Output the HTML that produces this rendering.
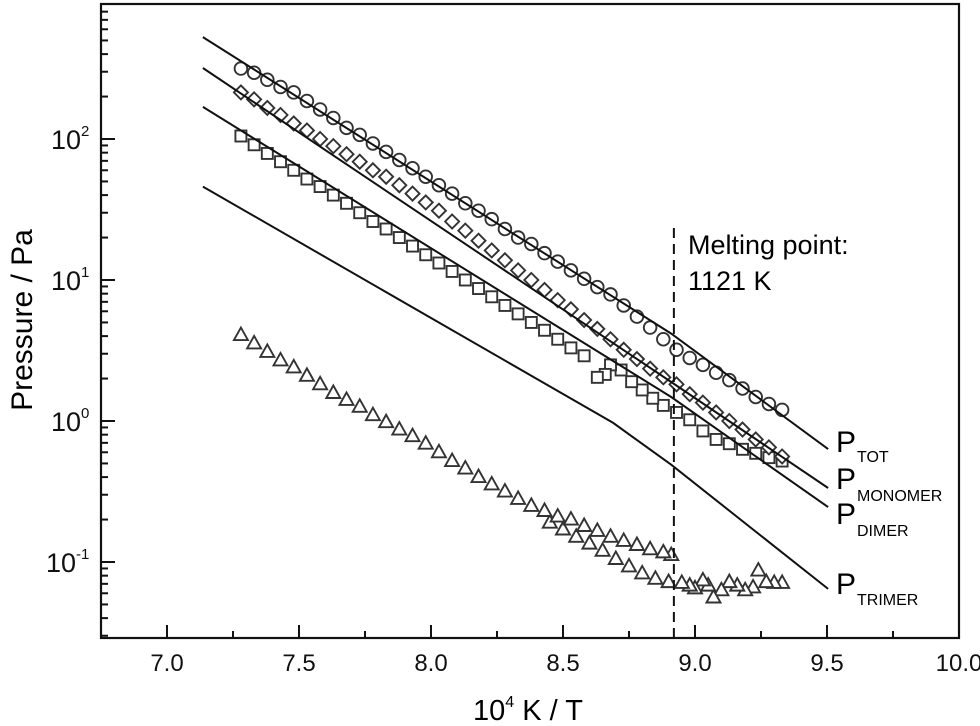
<!DOCTYPE html>
<html><head><meta charset="utf-8"><style>
html,body{margin:0;padding:0;background:#fff;}
svg{display:block;font-family:"Liberation Sans",Arial,sans-serif;}
</style></head><body>
<svg id="chart" width="980" height="726" viewBox="0 0 980 726">
<g id="marks"></g>
<g id="axes"></g>
<g id="labels">
<text x="688" y="254" font-size="27">Melting point:</text>
<text x="688" y="290" font-size="27">1121 K</text>
<g><text x="836" y="452" font-size="30">P</text><text x="857" y="462" font-size="16">TOT</text></g>
<g><text x="836" y="489" font-size="30">P</text><text x="857" y="501" font-size="16">MONOMER</text></g>
<g><text x="836" y="524" font-size="30">P</text><text x="857" y="536" font-size="16">DIMER</text></g>
<g><text x="836" y="594" font-size="30">P</text><text x="857" y="605" font-size="16">TRIMER</text></g>
<text transform="translate(32,320) rotate(-90)" text-anchor="middle" font-size="30">Pressure / Pa</text>
<text x="473" y="720" font-size="29">10<tspan font-size="16" dy="-13">4</tspan><tspan dy="13"> K / T</tspan></text>
</g>
</svg>
<script>
// ---- data ----
const xTicks = [7.0, 7.5, 8.0, 8.5, 9.0, 9.5, 10.0];
const xTickLabels = ["7.0", "7.5", "8.0", "8.5", "9.0", "9.5", "10.0"];
const yDecades = [-1, 0, 1, 2];
const yTickLabels = ["-1", "0", "1", "2"];
const meltingX = 8.92;

const totX = [7.28,7.33,7.38,7.43,7.48,7.53,7.58,7.63,7.68,7.73,7.78,7.83,7.88,7.93,7.98,8.03,8.08,8.13,8.18,8.23,8.28,8.33,8.38,8.43,8.48,8.53,8.58,8.63,8.68,8.73,8.78,8.83,8.88,8.93,8.98,9.03,9.08,9.13,9.18,9.23,9.28,9.33];
const totP = [316,295,263,234,214,186,162,141,120,107,93,81,71,62,54,47,41,35,31,27,23,20,18,15.5,13.5,11.7,10.2,8.9,7.9,6.6,5.5,4.6,3.8,3.2,2.8,2.5,2.2,1.95,1.7,1.48,1.32,1.2];

const monoX = totX;
const monoP = [214,191,166,148,129,115,100,89,78,69,60,54,47,41,35.5,31,26,22.4,19,16.2,13.8,11.7,10,8.5,7.2,6.2,5.2,4.5,3.8,3.2,2.75,2.35,2.04,1.82,1.55,1.35,1.15,1.0,0.87,0.74,0.65,0.56];

const dimerX = [7.28,7.33,7.38,7.43,7.48,7.53,7.58,7.63,7.68,7.73,7.78,7.83,7.88,7.93,7.98,8.03,8.08,8.13,8.18,8.23,8.28,8.33,8.38,8.43,8.48,8.53,8.58,8.63,8.66,8.68,8.72,8.76,8.8,8.84,8.88,8.93,8.98,9.03,9.08,9.13,9.18,9.23,9.28,9.33];
const dimerP = [105,91,79,69,60,52,46,40,35,30,26,23,20,17.4,15.1,13.2,11.5,10,8.7,7.6,6.6,5.75,5.0,4.4,3.8,3.3,2.9,2.04,2.14,2.5,2.3,1.9,1.66,1.45,1.29,1.15,1.02,0.85,0.74,0.69,0.63,0.59,0.55,0.52];

const trimerX = [7.28,7.33,7.38,7.43,7.48,7.53,7.58,7.63,7.68,7.73,7.78,7.83,7.88,7.93,7.98,8.03,8.08,8.13,8.18,8.23,8.28,8.33,8.38,8.43,8.48,
  8.53,8.58,8.63,8.68,8.73,8.78,8.83,8.88,8.91,
  8.45,8.5,8.55,8.6,8.65,8.7,8.75,8.8,8.85,8.9,
  8.95,8.98,9.0,9.03,9.05,9.07,9.1,9.13,9.16,9.19,9.22,9.24,9.27,9.3,9.33];
const trimerP = [4.07,3.55,3.09,2.69,2.40,2.09,1.82,1.58,1.41,1.26,1.10,0.98,0.87,0.78,0.69,0.60,0.52,0.46,0.40,0.355,0.316,0.28,0.25,0.23,0.21,
  0.20,0.18,0.166,0.151,0.141,0.132,0.123,0.117,0.112,
  0.19,0.17,0.151,0.135,0.12,0.105,0.093,0.083,0.076,0.072,
  0.071,0.068,0.065,0.074,0.068,0.056,0.063,0.072,0.068,0.063,0.066,0.087,0.072,0.071,0.071];

const lineTotX = [7.136, 8.91, 9.504];
const lineTotP = [528, 4.17, 0.632];
const lineMonoX = [7.136, 8.91, 9.504];
const lineMonoP = [319, 1.89, 0.335];
const lineDimerX = [7.136, 8.91, 9.504];
const lineDimerP = [169, 1.48, 0.245];
const lineTrimerX = [7.136, 8.69, 8.91, 9.504];
const lineTrimerP = [46, 0.97, 0.49, 0.0645];

// ---- scales ----
const X0 = 101, X1 = 959, Y0 = 4, Y1 = 638;
function sx(v){ return 167 + (v - 7) * 264; }
function sy(p){ return 139 + (2 - Math.log10(p)) * 141; }

const NS = "http://www.w3.org/2000/svg";
function mk(tag, attrs, parent){
  const e = document.createElementNS(NS, tag);
  for (const k in attrs) e.setAttribute(k, attrs[k]);
  parent.appendChild(e);
  return e;
}
const marks = document.getElementById("marks");
const axes = document.getElementById("axes");
const stroke = "#333";
const sw = 1.9;

function marker(kind, x, y, g){
  let e;
  if (kind === "circle") {
    e = mk("circle", {cx:x, cy:y, r:6.3, fill:"#fff", stroke:stroke, "stroke-width":sw}, g);
  } else if (kind === "square") {
    e = mk("rect", {x:x-5.5, y:y-5.5, width:11, height:11, fill:"#fff", stroke:stroke, "stroke-width":sw}, g);
  } else if (kind === "diamond") {
    e = mk("polygon", {points:`${x},${y-7} ${x+7},${y} ${x},${y+7} ${x-7},${y}`, fill:"#fff", stroke:stroke, "stroke-width":sw}, g);
  } else {
    e = mk("polygon", {points:`${x},${y-7.5} ${x+7},${y+5} ${x-7},${y+5}`, fill:"#fff", stroke:stroke, "stroke-width":sw}, g);
  }
  return e;
}
function series(name, kind, xs, ps){
  const g = mk("g", {}, marks);
  
  
  for (let i = xs.length - 1; i >= 0; i--) {
    const m = marker(kind, sx(xs[i]), sy(ps[i]), g);
    
    
  }
}
function fitLine(name, xs, ps){
  const d = xs.map((v, i) => (i ? "L" : "M") + sx(v).toFixed(1) + "," + sy(ps[i]).toFixed(1)).join(" ");
  const p = mk("path", {d:d, fill:"none", stroke:"#111", "stroke-width":2}, marks);
  
  
}

series("trimer-points", "triangle", trimerX, trimerP);
series("dimer-points", "square", dimerX, dimerP);
series("monomer-points", "diamond", monoX, monoP);
series("total-points", "circle", totX, totP);
fitLine("line-p-tot", lineTotX, lineTotP);
fitLine("line-p-monomer", lineMonoX, lineMonoP);
fitLine("line-p-dimer", lineDimerX, lineDimerP);
fitLine("line-p-trimer", lineTrimerX, lineTrimerP);

const ml = mk("line", {x1:sx(meltingX), y1:228, x2:sx(meltingX), y2:Y1, stroke:"#111", "stroke-width":2, "stroke-dasharray":"10,6"}, marks);



// ---- axes ----
const frame = mk("rect", {x:X0, y:Y0, width:X1-X0, height:Y1-Y0, fill:"none", stroke:"#111", "stroke-width":2.2}, axes);



for (let v = 6.75; v <= 10.001; v += 0.25) {
  const major = Math.abs(v*2 - Math.round(v*2)) < 1e-6;
  const t = mk("line", {x1:sx(v), x2:sx(v), y1:Y1, y2:Y1-(major?13:7), stroke:"#111", "stroke-width":2}, axes);
  
  
}
xTicks.forEach((v, i) => {
  const t = mk("text", {x:sx(v), y:671, "text-anchor":"middle", "font-size":24, fill:"#111"}, axes);
  t.textContent = xTickLabels[i];
  
  
});
for (let d = -2; d <= 2; d++) {
  for (let m = 1; m <= 9; m++) {
    const p = m * Math.pow(10, d);
    const y = sy(p);
    if (y < Y0 + 1 || y > Y1 - 1) continue;
    const t = mk("line", {x1:X0, x2:X0+(m===1?14:7), y1:y, y2:y, stroke:"#111", "stroke-width":2}, axes);
    
    
  }
}
yDecades.forEach((d, i) => {
  const y = sy(Math.pow(10, d));
  const t = mk("text", {x:d < 0 ? 46 : 51, y:y+10, "font-size":27, fill:"#111"}, axes);
  t.textContent = "10";
  const s = mk("tspan", {"font-size":15, dy:-13}, t);
  s.textContent = yTickLabels[i];
  
  
});
</script>
</body></html>
